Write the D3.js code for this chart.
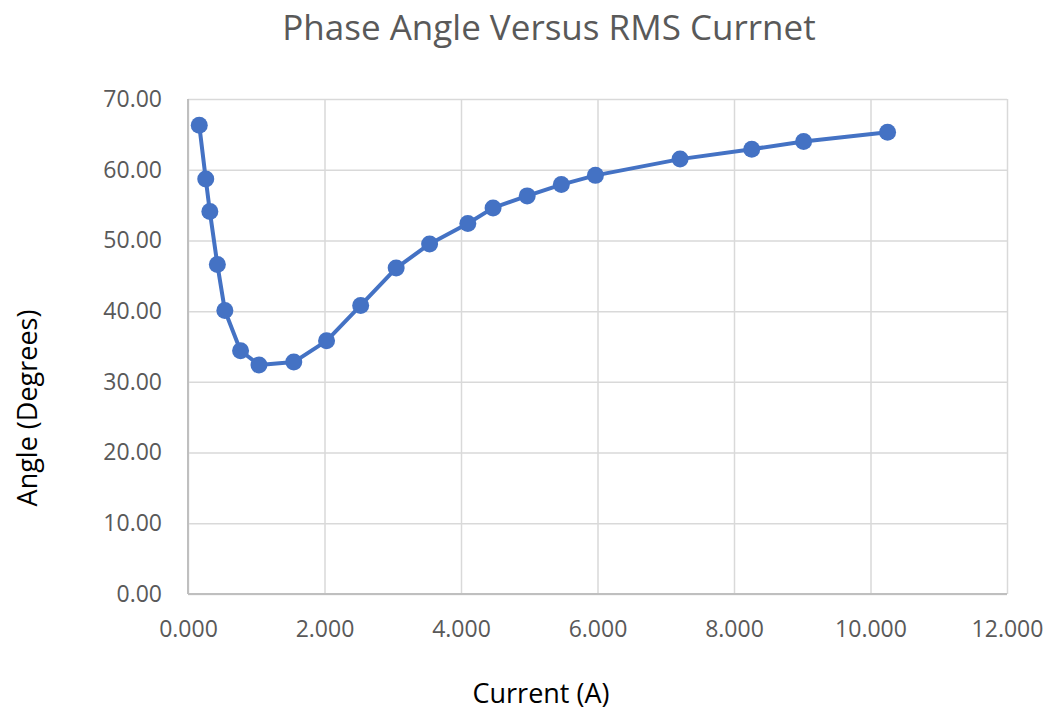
<!DOCTYPE html>
<html>
<head>
<meta charset="utf-8">
<script src="https://cdn.jsdelivr.net/npm/d3@7"></script>
<style>
  body { margin: 0; background: #fff; }
  text { font-family: "Open Sans", "Noto Sans", sans-serif; }
</style>
</head>
<body>
<div id="chart"></div>
<script>
// RMS current (A) and phase angle (degrees)
const current = [0.165, 0.26, 0.32, 0.43, 0.54, 0.77, 1.04, 1.55, 2.03, 2.53, 3.05,
  3.54, 4.10, 4.47, 4.97, 5.47, 5.97, 7.21, 8.26, 9.02, 10.25];
const angle = [66.3, 58.7, 54.1, 46.6, 40.1, 34.4, 32.4, 32.8, 35.8, 40.8, 46.1,
  49.5, 52.4, 54.6, 56.3, 57.9, 59.2, 61.5, 62.9, 64.0, 65.3];
const xTicks = [0, 2, 4, 6, 8, 10, 12];
const yTicks = [0, 10, 20, 30, 40, 50, 60, 70];

const width = 1056, height = 714;
const margins = { top: 99, right: 49, bottom: 120, left: 188 };
const innerWidth = width - margins.left - margins.right;
const innerHeight = height - margins.top - margins.bottom;

const points = current.map((c, i) => ({ x: c, y: angle[i] }));

const svg = d3.select("#chart")
  .append("svg")
  .attr("width", width)
  .attr("height", height);

const mainG = svg.append("g")
  .attr("transform", `translate(${margins.left},${margins.top})`);

const xScale = d3.scaleLinear().domain([0, 12]).range([0, innerWidth]);
const yScale = d3.scaleLinear().domain([0, 70]).range([innerHeight, 0]);

// gridlines
mainG.append("g")
  .attr("class", "x-grid")
  .attr("transform", `translate(0,${innerHeight})`)
  .call(d3.axisBottom(xScale).tickValues(xTicks).tickSize(-innerHeight).tickFormat(""))
  .call((g) => g.select(".domain").remove())
  .selectAll("line").attr("stroke", "#d9d9d9").attr("stroke-width", 1.5);

mainG.append("g")
  .attr("class", "y-grid")
  .call(d3.axisLeft(yScale).tickValues(yTicks).tickSize(-innerWidth).tickFormat(""))
  .call((g) => g.select(".domain").remove())
  .selectAll("line").attr("stroke", "#d9d9d9").attr("stroke-width", 1.5);

// axis lines
mainG.append("line")
  .attr("x1", 0).attr("x2", 0).attr("y1", 0).attr("y2", innerHeight)
  .attr("stroke", "#bfbfbf").attr("stroke-width", 2);
mainG.append("line")
  .attr("x1", 0).attr("x2", innerWidth).attr("y1", innerHeight).attr("y2", innerHeight)
  .attr("stroke", "#bfbfbf").attr("stroke-width", 2);

// tick labels
const xAxisG = mainG.append("g")
  .attr("transform", `translate(0,${innerHeight})`)
  .call(d3.axisBottom(xScale).tickValues(xTicks).tickSize(0).tickPadding(27)
    .tickFormat(d3.format(".3f")));
xAxisG.select(".domain").remove();
xAxisG.selectAll("text").attr("font-size", "23px").attr("fill", "#595959")
  .attr("font-family", "\"Open Sans\", sans-serif");

const yAxisG = mainG.append("g")
  .call(d3.axisLeft(yScale).tickValues(yTicks).tickSize(0).tickPadding(26)
    .tickFormat(d3.format(".2f")));
yAxisG.select(".domain").remove();
yAxisG.selectAll("text").attr("font-size", "23px").attr("fill", "#595959")
  .attr("font-family", "\"Open Sans\", sans-serif");

// series
const line = d3.line().x((d) => xScale(d.x)).y((d) => yScale(d.y));
mainG.append("path")
  .datum(points)
  .attr("fill", "none")
  .attr("stroke", "#4472c4")
  .attr("stroke-width", 4)
  .attr("stroke-linejoin", "round")
  .attr("d", line);

mainG.append("g")
  .selectAll("circle")
  .data(points)
  .join("circle")
  .attr("cx", (d) => xScale(d.x))
  .attr("cy", (d) => yScale(d.y))
  .attr("r", 8.5)
  .attr("fill", "#4472c4");

// titles
svg.append("text")
  .attr("x", 549).attr("y", 40)
  .attr("text-anchor", "middle")
  .attr("font-size", "35px")
  .attr("fill", "#595959")
  .text("Phase Angle Versus RMS Currnet");

svg.append("text")
  .attr("x", 541).attr("y", 703)
  .attr("text-anchor", "middle")
  .attr("font-size", "27px")
  .attr("fill", "#000")
  .text("Current (A)");

svg.append("text")
  .attr("transform", "translate(37,408) rotate(-90)")
  .attr("text-anchor", "middle")
  .attr("font-size", "27px")
  .attr("fill", "#000")
  .text("Angle (Degrees)");
</script>
</body>
</html>
